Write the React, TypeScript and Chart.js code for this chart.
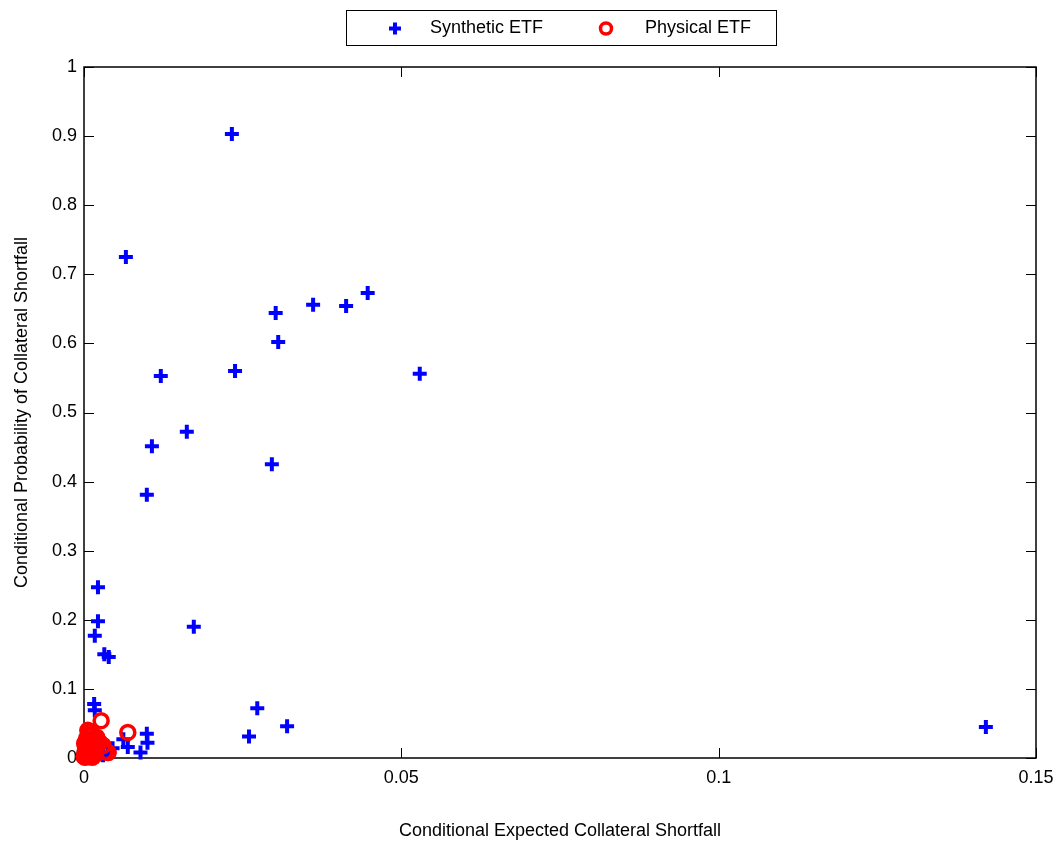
import React, { useEffect, useRef } from "react";
import { Chart, registerables } from "chart.js";

Chart.register(...registerables);

const syntheticX = [
  0.0233, 0.0066, 0.0302, 0.0361, 0.0413, 0.0447, 0.0306, 0.0121, 0.0238, 0.0529,
  0.0162, 0.0107, 0.0099, 0.0296, 0.0022, 0.0022, 0.0017, 0.0032, 0.0039, 0.0173,
  0.0273, 0.026, 0.032, 0.1421, 0.0016, 0.0017, 0.0099, 0.01, 0.0089, 0.0062,
  0.0069, 0.0045, 0.003, 0.004, 0.002,
];
const syntheticY = [
  0.903, 0.725, 0.644, 0.656, 0.654, 0.673, 0.602, 0.553, 0.56, 0.556,
  0.472, 0.451, 0.381, 0.425, 0.247, 0.198, 0.177, 0.15, 0.146, 0.19,
  0.072, 0.031, 0.046, 0.045, 0.078, 0.069, 0.035, 0.022, 0.008, 0.027,
  0.016, 0.014, 0.004, 0.008, 0.002,
];
const physicalX = [
  0.0027, 0.0069, 0.0038, 0.003, 0.0025, 0.001, 0.0008, 0.0012, 0.0005, 0.0003,
  0.0002, 0.0001, 0.0, 0.0015, 0.0018, 0.0007, 0.002, 0.0004, 0.0011, 0.0006,
  0.0013, 0.0009, 0.0016, 0.0002, 0.0033, 0.0006, 0.0004, 0.0001, 0.0012, 0.0019,
  0.0003, 0.0008, 0.0021, 0.0014, 0.0005,
];
const physicalY = [
  0.054, 0.037, 0.008, 0.018, 0.022, 0.038, 0.032, 0.026, 0.02, 0.015,
  0.01, 0.005, 0.002, 0.012, 0.005, 0.003, 0.03, 0.008, 0.017, 0.011,
  0.001, 0.024, 0.022, 0.001, 0.009, 0.04, 0.028, 0.021, 0.034, 0.014,
  0.006, 0.016, 0.026, 0.007, 0.013,
];
const seriesNames = ["Synthetic ETF", "Physical ETF"];
const xTicks = [0, 0.05, 0.1, 0.15];
const yTicks = [0, 0.1, 0.2, 0.3, 0.4, 0.5, 0.6, 0.7, 0.8, 0.9, 1];
const xTitle = "Conditional Expected Collateral Shortfall";
const yTitle = "Conditional Probability of Collateral Shortfall";

const FONT = "'Liberation Sans', Arial, Helvetica, sans-serif";

const framePlugin = {
  id: "frame",
  beforeDatasetsDraw(chart: any) {
    const { ctx, chartArea } = chart;
    const { left, right, top, bottom } = chartArea;
    const xs = chart.scales.x;
    const ys = chart.scales.y;
    ctx.save();
    ctx.strokeStyle = "#000";
    ctx.lineWidth = 1.5;
    ctx.strokeRect(left, top, right - left, bottom - top);
    ctx.lineWidth = 1;
    const tl = 10;
    ctx.beginPath();
    xTicks.forEach((v) => {
      const px = Math.round(xs.getPixelForValue(v)) + 0.5;
      ctx.moveTo(px, bottom);
      ctx.lineTo(px, bottom - tl);
      ctx.moveTo(px, top);
      ctx.lineTo(px, top + tl);
    });
    yTicks.forEach((v) => {
      const py = Math.round(ys.getPixelForValue(v)) + 0.5;
      ctx.moveTo(left, py);
      ctx.lineTo(left + tl, py);
      ctx.moveTo(right, py);
      ctx.lineTo(right - tl, py);
    });
    ctx.stroke();
    ctx.restore();
  },
  afterDraw(chart: any) {
    const { ctx } = chart;
    ctx.save();
    const lx = 346, ly = 10, lw = 430, lh = 35;
    ctx.fillStyle = "#fff";
    ctx.fillRect(lx, ly, lw, lh);
    ctx.lineWidth = 1;
    ctx.strokeStyle = "#000";
    ctx.strokeRect(lx + 0.5, ly + 0.5, lw, lh);
    const cy = ly + lh / 2 + 1;
    ctx.strokeStyle = "#0000ff";
    ctx.lineWidth = 4;
    ctx.beginPath();
    ctx.moveTo(395 - 6, cy);
    ctx.lineTo(395 + 6, cy);
    ctx.moveTo(395, cy - 6);
    ctx.lineTo(395, cy + 6);
    ctx.stroke();
    ctx.strokeStyle = "#ff0000";
    ctx.lineWidth = 3.5;
    ctx.beginPath();
    ctx.arc(606, cy, 5.5, 0, Math.PI * 2);
    ctx.stroke();
    ctx.fillStyle = "#000";
    ctx.font = `18px ${FONT}`;
    ctx.textBaseline = "middle";
    ctx.textAlign = "left";
    ctx.fillText(seriesNames[0], 430, cy);
    ctx.fillText(seriesNames[1], 645, cy);
    ctx.restore();
  },
};

export default function App() {
  const ref = useRef<HTMLCanvasElement>(null);
  useEffect(() => {
    document.body.style.margin = "0";
    const synth = syntheticX.map((x, i) => ({ x, y: syntheticY[i] }));
    const phys = physicalX.map((x, i) => ({ x, y: physicalY[i] }));
    const chart = new Chart(ref.current!, {
      type: "scatter",
      data: {
        datasets: [
          {
            label: seriesNames[0],
            data: synth,
            pointStyle: "cross",
            pointRadius: 7,
            pointHoverRadius: 7,
            borderWidth: 4,
            pointBorderWidth: 4,
            borderColor: "#0000ff",
            backgroundColor: "#0000ff",
            order: 1,
            clip: false,
          } as any,
          {
            label: seriesNames[1],
            data: phys,
            pointStyle: "circle",
            pointRadius: 7,
            pointHoverRadius: 7,
            borderWidth: 3.5,
            pointBorderWidth: 3.5,
            borderColor: "#ff0000",
            backgroundColor: "rgba(0,0,0,0)",
            order: 0,
            clip: false,
          } as any,
        ],
      },
      options: {
        responsive: false,
        animation: false,
        layout: { padding: { top: 67, right: 28, left: 0, bottom: 0 } },
        plugins: { legend: { display: false }, tooltip: { enabled: false } },
        scales: {
          x: {
            type: "linear",
            min: 0,
            max: 0.15,
            grid: { display: false, drawTicks: false },
            border: { display: false },
            afterBuildTicks: (s: any) => {
              s.ticks = xTicks.map((v) => ({ value: v }));
            },
            afterFit: (s: any) => {
              s.height = 84;
            },
            ticks: {
              padding: 9,
              color: "#000",
              font: { family: FONT, size: 18 },
              callback: (v: any) => String(Number(Number(v).toFixed(3))),
            },
            title: {
              display: true,
              text: xTitle,
              color: "#000",
              font: { family: FONT, size: 18 },
              padding: { top: 2, bottom: 0 },
            },
          },
          y: {
            type: "linear",
            min: 0,
            max: 1,
            grid: { display: false, drawTicks: false },
            border: { display: false },
            afterBuildTicks: (s: any) => {
              s.ticks = yTicks.map((v) => ({ value: v }));
            },
            afterFit: (s: any) => {
              s.width = 84;
            },
            ticks: {
              padding: 7,
              color: "#000",
              font: { family: FONT, size: 18 },
              callback: (v: any) => String(Number(Number(v).toFixed(3))),
            },
            title: {
              display: true,
              text: yTitle,
              color: "#000",
              font: { family: FONT, size: 18 },
              padding: { top: 11, bottom: 0 },
            },
          },
        },
      },
      plugins: [framePlugin],
    });
    return () => chart.destroy();
  }, []);
  return (
    <div style={{ position: "absolute", left: 0, top: 0, width: 1064, height: 842, background: "#fff" }}>
      <canvas ref={ref} width={1064} height={842} />
    </div>
  );
}
